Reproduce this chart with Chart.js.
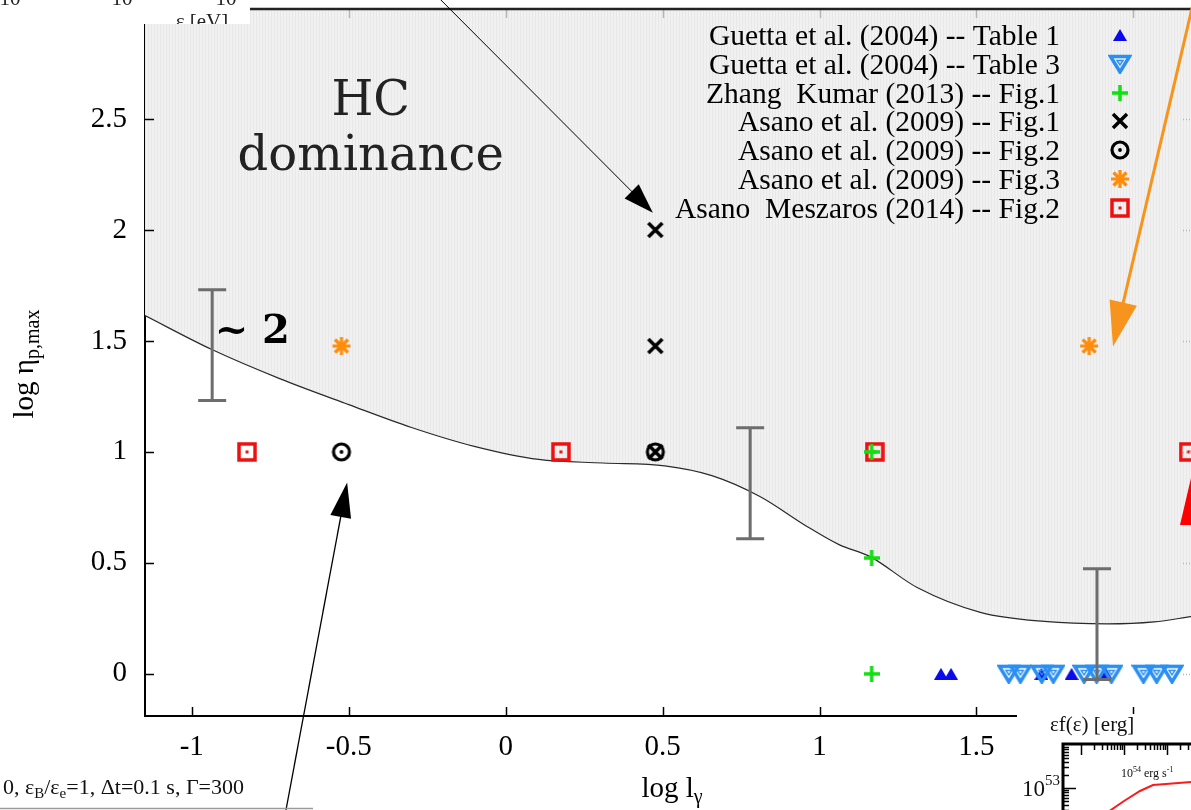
<!DOCTYPE html>
<html>
<head>
<meta charset="UTF-8">
<title>log eta_p,max vs log l_gamma</title>
<script src="https://cdn.jsdelivr.net/npm/chart.js@4.4.1/dist/chart.umd.min.js"></script>
<style>
  html, body { margin: 0; padding: 0; background: #fff; overflow: hidden; }
  canvas { display: block; }
</style>
</head>
<body>
<canvas id="myChart" width="1191" height="810"></canvas>
<script>
// boundary of the HC dominance region (shaded above)
const curveX = [-1.149, -0.936, -0.72, -0.5, -0.3, -0.1, 0.105, 0.31, 0.507, 0.657, 0.81, 0.96, 1.062, 1.161, 1.311, 1.515, 1.716, 1.917, 2.066, 2.184];
const curveY = [1.614, 1.461, 1.33, 1.213, 1.11, 1.025, 0.966, 0.95, 0.937, 0.893, 0.799, 0.664, 0.582, 0.528, 0.389, 0.276, 0.236, 0.225, 0.234, 0.258];

// literature points
const guettaT1X = [1.387, 1.419, 1.707, 1.803, 1.912];
const guettaT1Y = [0, 0, 0, 0, 0];
const guettaT3X = [1.603, 1.64, 1.708, 1.745, 1.843, 1.883, 1.93, 2.032, 2.074, 2.123];
const guettaT3Y = [0, 0, 0, 0, 0, 0, 0, 0, 0, 0];
const zhangX = [1.166, 1.166, 1.166];
const zhangY = [1.0, 0.522, 0];
const asano1X = [0.477, 0.477, 0.477];
const asano1Y = [2.0, 1.477, 1.0];
const asano2X = [-0.523, 0.477];
const asano2Y = [1.0, 1.0];
const asano3X = [-0.523, 1.859];
const asano3Y = [1.477, 1.477];
const asanoMX = [-0.824, 0.176, 1.176, 2.176];
const asanoMY = [1.0, 1.0, 1.0, 1.0];

// grey bars
const errX = [-0.935, 0.779, 1.884];
const errY = [1.481, 0.859, 0.224];
const errHalf = [0.25, 0.25, 0.25];

const xTicks = [-1, -0.5, 0, 0.5, 1, 1.5, 2];
const yTicks = [0, 0.5, 1, 1.5, 2, 2.5];

const legendNames = [
  'Guetta et al. (2004) -- Table 1',
  'Guetta et al. (2004) -- Table 3',
  'Zhang  Kumar (2013) -- Fig.1',
  'Asano et al. (2009) -- Fig.1',
  'Asano et al. (2009) -- Fig.2',
  'Asano et al. (2009) -- Fig.3',
  'Asano  Meszaros (2014) -- Fig.2'
];

const SERIF = '"Liberation Serif", "Times New Roman", serif';

// marker images
function marker(w, h, fn) {
  const c = document.createElement('canvas');
  c.width = w; c.height = h;
  fn(c.getContext('2d'), w, h);
  return c;
}
const mTri = marker(14, 12, (g, w, h) => {
  g.fillStyle = '#0a0aea';
  g.beginPath(); g.moveTo(w / 2, 0); g.lineTo(w, h); g.lineTo(0, h); g.closePath(); g.fill();
});
const mInv = marker(24, 20, (g, w, h) => {
  g.strokeStyle = '#2b8ff2'; g.lineWidth = 3.5;
  g.beginPath(); g.moveTo(2.5, 2.5); g.lineTo(w - 2.5, 2.5); g.lineTo(w / 2, h - 2); g.closePath(); g.stroke();
  g.lineWidth = 1.4;
  g.beginPath(); g.moveTo(w / 2 - 3, 6.5); g.lineTo(w / 2 + 3, 6.5); g.lineTo(w / 2, 11); g.closePath(); g.stroke();
});
const mPlus = marker(16, 16, (g, w, h) => {
  g.strokeStyle = '#10e010'; g.lineWidth = 3.5;
  g.beginPath(); g.moveTo(0, h / 2); g.lineTo(w, h / 2); g.moveTo(w / 2, 0); g.lineTo(w / 2, h); g.stroke();
});
const mX = marker(20, 20, (g, w, h) => {
  g.strokeStyle = '#000'; g.lineWidth = 3.5;
  g.beginPath(); g.moveTo(3, 3); g.lineTo(w - 3, h - 3); g.moveTo(w - 3, 3); g.lineTo(3, h - 3); g.stroke();
});
const mCirc = marker(22, 22, (g, w, h) => {
  g.strokeStyle = '#000'; g.lineWidth = 3.2;
  g.beginPath(); g.arc(w / 2, h / 2, 8, 0, Math.PI * 2); g.stroke();
  g.fillStyle = '#000'; g.beginPath(); g.arc(w / 2, h / 2, 1.9, 0, Math.PI * 2); g.fill();
});
const mStar = marker(20, 20, (g, w, h) => {
  g.strokeStyle = '#ff8c0a'; g.lineWidth = 3.2;
  g.beginPath();
  g.moveTo(1, h / 2); g.lineTo(w - 1, h / 2);
  g.moveTo(w / 2, 1); g.lineTo(w / 2, h - 1);
  g.moveTo(3.5, 3.5); g.lineTo(w - 3.5, h - 3.5);
  g.moveTo(w - 3.5, 3.5); g.lineTo(3.5, h - 3.5);
  g.stroke();
});
const mSq = marker(20, 20, (g, w, h) => {
  g.strokeStyle = '#ee1010'; g.lineWidth = 3.5;
  g.strokeRect(2, 2, w - 4, h - 4);
  g.fillStyle = '#ee1010'; g.fillRect(w / 2 - 1.5, h / 2 - 1.5, 3, 3);
});
const legendMarks = [mTri, mInv, mPlus, mX, mCirc, mStar, mSq];

// striped grey fill
const stripeCanvas = marker(3, 1, (g) => {
  g.fillStyle = '#f1f1f1'; g.fillRect(0, 0, 3, 1);
  g.fillStyle = '#e8e8e8'; g.fillRect(1, 0, 1, 1);
});
const stripe = stripeCanvas.getContext('2d').createPattern(stripeCanvas, 'repeat');

const pts = (xs, ys) => xs.map((x, i) => ({ x: x, y: ys[i] }));

function rich(ctx, parts, x, y, align) {
  let w = 0;
  parts.forEach(p => { ctx.font = p[1]; w += ctx.measureText(p[0]).width; });
  let cx = align === 'center' ? x - w / 2 : x;
  ctx.textAlign = 'left';
  ctx.textBaseline = 'alphabetic';
  parts.forEach(p => {
    ctx.font = p[1];
    ctx.fillText(p[0], cx, y + (p[2] || 0));
    cx += ctx.measureText(p[0]).width;
  });
}

function arrow(ctx, x0, y0, x1, y1, color, lw, len, wid) {
  const dx = x1 - x0, dy = y1 - y0, d = Math.hypot(dx, dy);
  const ux = dx / d, uy = dy / d;
  const bx = x1 - ux * len, by = y1 - uy * len;
  ctx.strokeStyle = color; ctx.fillStyle = color; ctx.lineWidth = lw;
  ctx.beginPath(); ctx.moveTo(x0, y0); ctx.lineTo(bx + ux * 2, by + uy * 2); ctx.stroke();
  ctx.beginPath();
  ctx.moveTo(x1, y1);
  ctx.lineTo(bx - uy * wid / 2, by + ux * wid / 2);
  ctx.lineTo(bx + uy * wid / 2, by - ux * wid / 2);
  ctx.closePath(); ctx.fill();
}

// arrows in data coordinates
const arrows = [
  { from: [-0.209, 3.04], to: [0.469, 2.078], color: '#000', lw: 1, len: 30, wid: 20 },
  { from: [-0.702, -0.63], to: [-0.505, 0.862], color: '#000', lw: 1.3, len: 35, wid: 21 },
  { from: [2.19, 3.02], to: [1.935, 1.475], color: '#f7941d', lw: 3, len: 45, wid: 28 }
];

const decor = {
  id: 'decor',
  afterDatasetsDraw(chart) {
    const ctx = chart.ctx, xs = chart.scales.x, ys = chart.scales.y;
    ctx.save();
    // grey bars
    ctx.strokeStyle = '#6d6d6d'; ctx.lineWidth = 3;
    errX.forEach((x, i) => {
      const px = xs.getPixelForValue(x);
      const t = ys.getPixelForValue(errY[i] + errHalf[i]);
      const b = ys.getPixelForValue(errY[i] - errHalf[i]);
      ctx.beginPath();
      ctx.moveTo(px, t); ctx.lineTo(px, b);
      ctx.moveTo(px - 14, t); ctx.lineTo(px + 14, t);
      ctx.moveTo(px - 14, b); ctx.lineTo(px + 14, b);
      ctx.stroke();
    });
    ctx.restore();
  },
  afterDraw(chart) {
    const ctx = chart.ctx, xs = chart.scales.x, ys = chart.scales.y, a = chart.chartArea;
    ctx.save();

    // inward ticks and frame
    ctx.strokeStyle = '#000'; ctx.lineWidth = 1.5;
    xTicks.forEach(v => {
      const px = Math.round(xs.getPixelForValue(v)) + 0.5;
      ctx.beginPath(); ctx.moveTo(px, a.bottom); ctx.lineTo(px, a.bottom - 9); ctx.stroke();
    });
    yTicks.forEach(v => {
      const py = Math.round(ys.getPixelForValue(v)) + 0.5;
      ctx.beginPath(); ctx.moveTo(a.left, py); ctx.lineTo(a.left + 9, py); ctx.stroke();
    });
    ctx.strokeStyle = '#b5b5b5';
    xTicks.forEach(v => {
      const px = Math.round(xs.getPixelForValue(v)) + 0.5;
      ctx.beginPath(); ctx.moveTo(px, a.top); ctx.lineTo(px, a.top + 10); ctx.stroke();
    });
    yTicks.forEach(v => {
      const py = Math.round(ys.getPixelForValue(v)) + 0.5;
      ctx.setLineDash([1, 2]);
      ctx.beginPath(); ctx.moveTo(a.right - 8, py); ctx.lineTo(a.right, py); ctx.stroke();
    });
    ctx.setLineDash([]);
    ctx.strokeStyle = '#222'; ctx.lineWidth = 2.5;
    ctx.beginPath(); ctx.moveTo(a.left, a.top + 1); ctx.lineTo(a.right, a.top + 1); ctx.stroke();

    // region label
    ctx.fillStyle = '#222';
    ctx.font = '48px "DejaVu Serif", serif';
    ctx.textAlign = 'center'; ctx.textBaseline = 'alphabetic';
    const hx = xs.getPixelForValue(-0.43);
    ctx.fillText('HC', hx, ys.getPixelForValue(2.52));
    ctx.fillText('dominance', hx, ys.getPixelForValue(2.27));

    ctx.fillStyle = '#000';
    ctx.font = 'bold 40px "DejaVu Serif", serif';
    ctx.textAlign = 'left';
    ctx.fillText('~ 2', xs.getPixelForValue(-0.927), ys.getPixelForValue(1.489));

    // legend
    ctx.font = '29.5px ' + SERIF;
    ctx.textAlign = 'right';
    legendNames.forEach((n, i) => {
      const by = 45 + i * 28.8;
      ctx.fillStyle = '#000';
      ctx.fillText(n, 1060, by);
      const m = legendMarks[i];
      ctx.drawImage(m, Math.round(1120 - m.width / 2), Math.round(by - 10 - m.height / 2));
    });

    // arrows
    arrows.forEach(r => {
      arrow(ctx, xs.getPixelForValue(r.from[0]), ys.getPixelForValue(r.from[1]),
        xs.getPixelForValue(r.to[0]), ys.getPixelForValue(r.to[1]), r.color, r.lw, r.len, r.wid);
    });

    // pieces of neighbouring panels
    ctx.fillStyle = '#ff0000';
    ctx.beginPath(); ctx.moveTo(1191, 478); ctx.lineTo(1180, 525); ctx.lineTo(1191, 525); ctx.closePath(); ctx.fill();

    // top-left label box
    ctx.fillStyle = '#fff'; ctx.fillRect(0, 0, 250, 24);
    ctx.save();
    ctx.beginPath(); ctx.rect(0, 0, 250, 24); ctx.clip();
    ctx.fillStyle = '#222';
    ctx.font = '21px ' + SERIF; ctx.textAlign = 'center';
    ctx.fillText('ε [eV]', 202, 28);
    ctx.fillText('10', 10, 5);
    ctx.fillText('10', 122, 5);
    ctx.fillText('10', 226, 5);
    ctx.restore();

    // bottom-right inset
    ctx.fillStyle = '#fff'; ctx.fillRect(1017, 714, 174, 96);
    ctx.fillStyle = '#111';
    ctx.font = '21px ' + SERIF; ctx.textAlign = 'left';
    ctx.fillText('εf(ε) [erg]', 1050, 731);
    ctx.strokeStyle = '#000'; ctx.lineWidth = 3;
    ctx.beginPath(); ctx.moveTo(1063, 812); ctx.lineTo(1063, 744); ctx.lineTo(1193, 744); ctx.stroke();
    ctx.lineWidth = 1.5;
    [1081, 1124, 1167].forEach((mx) => {
      for (let k = 1; k <= 9; k++) {
        const tx = Math.round(mx + 43 * Math.log10(k)) + 0.5;
        const len = k === 1 ? 11 : 6;
        ctx.beginPath(); ctx.moveTo(tx, 744); ctx.lineTo(tx, 744 + len); ctx.stroke();
      }
    });
    for (let k = 2; k <= 9; k++) {
      let ty = Math.round(788 - 43 * Math.log10(k)) + 0.5;
      ctx.beginPath(); ctx.moveTo(1063, ty); ctx.lineTo(1069, ty); ctx.stroke();
      ty = Math.round(788 + 43 * (1 - Math.log10(k))) + 0.5;
      ctx.beginPath(); ctx.moveTo(1063, ty); ctx.lineTo(1069, ty); ctx.stroke();
    }
    ctx.beginPath(); ctx.moveTo(1063, 788.5); ctx.lineTo(1076, 788.5); ctx.stroke();
    ctx.fillStyle = '#111';
    rich(ctx, [['10', '23px ' + SERIF], ['53', '15px ' + SERIF, -11]], 1022, 796);
    rich(ctx, [['10', '12px ' + SERIF], ['54', '8px ' + SERIF, -5], [' erg s', '12px ' + SERIF], ['-1', '8px ' + SERIF, -5]], 1121, 777);
    ctx.strokeStyle = '#ff1a1a'; ctx.lineWidth = 2;
    ctx.beginPath();
    ctx.moveTo(1108, 812); ctx.lineTo(1124, 801); ctx.lineTo(1140, 791); ctx.lineTo(1153, 785);
    ctx.lineTo(1166, 784); ctx.lineTo(1191, 782);
    ctx.stroke();

    // bottom-left caption of neighbouring panel
    ctx.fillStyle = '#111';
    rich(ctx, [['0, ε', '22px ' + SERIF], ['B', '15px ' + SERIF, 4], ['/ε', '22px ' + SERIF], ['e', '15px ' + SERIF, 4],
      ['=1, Δt=0.1 s, Γ=300', '22px ' + SERIF]], 3, 794);
    ctx.strokeStyle = '#9a9a9a'; ctx.lineWidth = 1.5;
    ctx.beginPath(); ctx.moveTo(0, 808.5); ctx.lineTo(313, 808.5); ctx.stroke();

    // axis titles
    ctx.fillStyle = '#000';
    rich(ctx, [['log l', '29px ' + SERIF], ['γ', '20px ' + SERIF, 6]], 672, 797, 'center');
    ctx.translate(33, 364);
    ctx.rotate(-Math.PI / 2);
    rich(ctx, [['log η', '29px ' + SERIF], ['p,max', '20px ' + SERIF, 6]], 0, 0, 'center');

    ctx.restore();
  }
};

const tickFont = { family: SERIF, size: 29 };

new Chart('myChart', {
  type: 'scatter',
  data: {
    datasets: [
      { label: legendNames[3], data: pts(asano1X, asano1Y), pointStyle: mX, pointRadius: 8, order: 1 },
      { label: legendNames[2], data: pts(zhangX, zhangY), pointStyle: mPlus, pointRadius: 8, order: 2 },
      { label: legendNames[4], data: pts(asano2X, asano2Y), pointStyle: mCirc, pointRadius: 8, order: 3 },
      { label: legendNames[6], data: pts(asanoMX, asanoMY), pointStyle: mSq, pointRadius: 8, order: 4 },
      { label: legendNames[5], data: pts(asano3X, asano3Y), pointStyle: mStar, pointRadius: 8, order: 5 },
      { label: legendNames[1], data: pts(guettaT3X, guettaT3Y), pointStyle: mInv, pointRadius: 8, order: 6 },
      { label: legendNames[0], data: pts(guettaT1X, guettaT1Y), pointStyle: mTri, pointRadius: 8, order: 7 },
      {
        type: 'line', label: 'HC boundary', data: pts(curveX, curveY),
        borderColor: '#2a2a2a', borderWidth: 1.2, pointRadius: 0,
        fill: 'end', backgroundColor: stripe,
        cubicInterpolationMode: 'monotone', order: 20
      }
    ]
  },
  options: {
    responsive: false,
    animation: false,
    events: [],
    layout: { autoPadding: false, padding: { top: 8, right: 0, left: 0, bottom: 0 } },
    plugins: { legend: { display: false }, tooltip: { enabled: false } },
    scales: {
      x: {
        type: 'linear', min: -1.149, max: 2.1835,
        afterBuildTicks: s => { s.ticks = xTicks.map(v => ({ value: v })); },
        afterFit: s => { s.height = 94; s.paddingLeft = 0; s.paddingRight = 0; },
        ticks: { font: tickFont, color: '#000', padding: 14, maxRotation: 0, autoSkip: false, callback: v => String(v) },
        grid: { display: false, drawTicks: false },
        border: { display: true, color: '#000', width: 2 }
      },
      y: {
        type: 'linear', min: -0.19, max: 3.0,
        afterBuildTicks: s => { s.ticks = yTicks.map(v => ({ value: v })); },
        afterFit: s => { s.width = 145; s.paddingTop = 0; s.paddingBottom = 0; },
        ticks: { font: tickFont, color: '#000', padding: 18, autoSkip: false, callback: v => String(v) },
        grid: { display: false, drawTicks: false },
        border: { display: true, color: '#000', width: 2 }
      }
    }
  },
  plugins: [decor]
});
</script>
</body>
</html>
